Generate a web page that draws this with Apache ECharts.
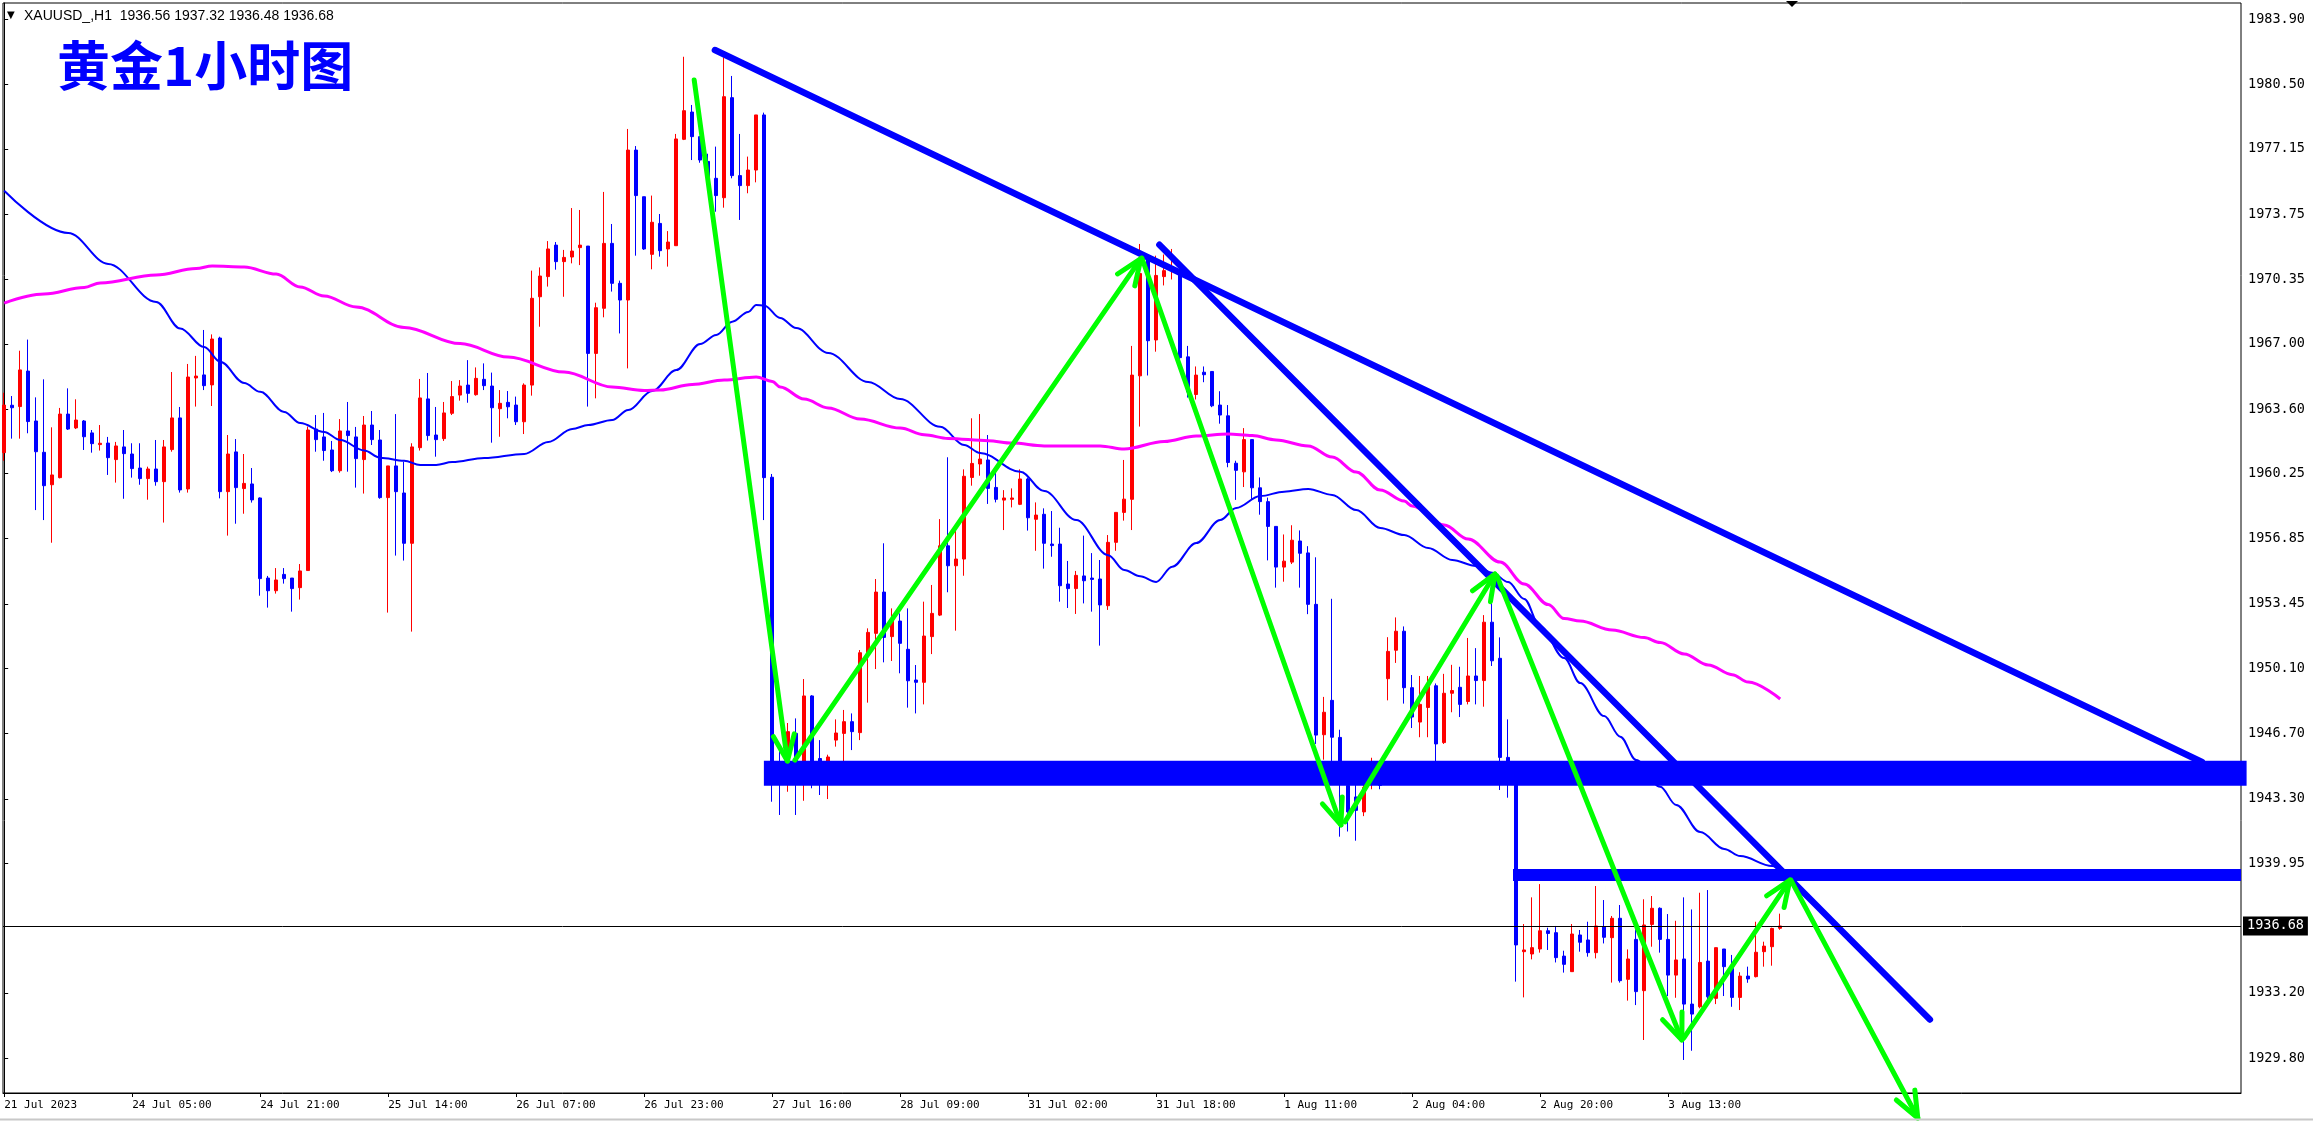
<!DOCTYPE html>
<html>
<head>
<meta charset="utf-8">
<script src="https://cdn.jsdelivr.net/npm/echarts/dist/echarts.min.js"></script>
<style>
html,body{margin:0;padding:0;background:#fff;}
#chart{width:2313px;height:1121px;}
</style>
</head>
<body>
<div id="chart"></div>
<script>
// ---- data (XAUUSD H1) ----
const timeLabels = ['21 Jul 2023','24 Jul 05:00','24 Jul 21:00','25 Jul 14:00','26 Jul 07:00','26 Jul 23:00','27 Jul 16:00','28 Jul 09:00','31 Jul 02:00','31 Jul 18:00','1 Aug 11:00','2 Aug 04:00','2 Aug 20:00','3 Aug 13:00'];
const timeLabelBars = [0,16,32,48,64,80,96,112,128,144,160,176,192,208];
const priceTicks = ['1983.90','1980.50','1977.15','1973.75','1970.35','1967.00','1963.60','1960.25','1956.85','1953.45','1950.10','1946.70','1943.30','1939.95','1933.20','1929.80'];
const lastPrice = 1936.68;

const opens = [1961.33,1963.80,1963.73,1965.58,1962.98,1961.35,1959.66,1960.03,1963.34,1962.62,
1962.98,1962.36,1961.75,1961.83,1960.97,1961.63,1961.26,1960.53,1959.98,1960.48,
1959.82,1961.49,1963.14,1959.44,1965.22,1965.38,1964.86,1967.30,1959.30,1961.37,
1959.46,1959.70,1958.97,1954.80,1954.14,1954.99,1954.80,1954.30,1955.19,1962.56,
1962.15,1961.47,1960.39,1962.46,1962.15,1960.97,1962.77,1961.99,1958.99,1960.64,
1959.23,1956.61,1961.59,1964.13,1962.25,1962.06,1963.38,1964.33,1964.85,1964.35,
1965.15,1964.80,1963.62,1963.95,1963.81,1962.94,1964.85,1969.45,1970.50,1972.14,
1971.28,1971.52,1972.01,1972.09,1966.50,1968.85,1972.23,1970.15,1969.28,1977.09,
1974.66,1971.66,1973.27,1971.94,1972.11,1977.65,1979.07,1977.79,1976.50,1975.62,
1974.61,1979.82,1975.76,1975.24,1976.05,1978.92,1960.05,1945.20,1944.80,1946.71,
1944.70,1948.66,1945.40,1944.90,1946.36,1946.71,1947.32,1946.75,1950.91,1951.92,
1954.07,1951.75,1952.56,1951.09,1949.49,1949.37,1951.75,1952.87,1956.48,1955.44,
1955.79,1960.04,1960.74,1960.95,1959.52,1958.86,1958.90,1958.64,1959.96,1957.86,
1958.12,1956.57,1956.57,1954.49,1954.25,1954.91,1954.80,1954.75,1953.36,1956.66,
1958.22,1958.90,1965.33,1971.38,1967.20,1970.50,1970.87,1970.70,1966.32,1964.36,
1965.52,1965.56,1963.81,1963.25,1960.78,1960.33,1962.01,1959.50,1958.78,1957.49,
1955.37,1955.63,1956.73,1956.11,1953.43,1946.64,1948.43,1946.50,1944.00,1943.40,
1942.62,1944.20,1944.40,1949.56,1951.04,1952.03,1949.09,1947.30,1948.06,1949.19,
1946.23,1948.80,1949.11,1948.37,1949.70,1949.46,1952.50,1950.62,1945.46,1944.60,
1935.34,1935.22,1935.48,1936.43,1936.33,1935.11,1934.30,1936.21,1935.95,1935.29,
1936.64,1936.07,1937.08,1933.90,1935.98,1933.31,1936.76,1937.60,1935.98,1934.12,
1934.96,1932.61,1932.47,1934.85,1932.91,1935.48,1934.47,1932.96,1934.07,1934.04,
1935.34,1935.60,1936.56];

const closes = [1963.81,1963.67,1965.64,1962.95,1961.38,1959.61,1960.17,1963.34,1962.56,1963.03,
1962.16,1961.80,1961.82,1961.07,1961.68,1961.28,1960.50,1959.98,1960.48,1959.82,
1961.63,1963.14,1959.39,1965.27,1965.32,1964.82,1967.25,1959.30,1961.26,1959.51,
1959.73,1958.87,1954.77,1954.14,1954.70,1954.77,1954.25,1955.17,1962.51,1962.01,
1961.44,1960.39,1962.46,1962.22,1961.02,1962.77,1962.01,1958.99,1960.64,1959.30,
1956.61,1961.63,1964.18,1962.22,1962.01,1963.40,1964.25,1964.80,1964.42,1965.20,
1964.82,1963.67,1963.90,1963.72,1962.94,1964.85,1969.37,1970.53,1971.94,1971.28,
1971.50,1971.83,1972.14,1966.50,1968.88,1972.23,1970.15,1969.28,1977.09,1974.72,
1971.94,1973.33,1971.85,1972.30,1977.67,1979.14,1977.79,1976.57,1975.60,1974.72,
1979.87,1975.76,1975.24,1976.05,1978.92,1960.03,1944.60,1944.40,1946.80,1944.90,
1948.66,1944.80,1944.80,1945.48,1946.73,1947.32,1946.80,1950.91,1951.97,1954.07,
1951.71,1952.56,1951.40,1949.45,1949.37,1951.78,1952.96,1956.48,1955.44,1955.79,
1960.10,1960.77,1961.00,1959.47,1958.90,1958.97,1958.97,1959.96,1957.94,1958.08,
1956.61,1956.49,1954.40,1954.25,1954.94,1954.66,1954.73,1953.40,1956.66,1958.22,
1958.91,1965.37,1970.66,1967.16,1970.56,1970.81,1970.97,1966.28,1964.49,1965.37,
1965.39,1963.77,1963.29,1960.82,1960.41,1962.01,1959.50,1958.78,1957.49,1955.37,
1955.68,1956.77,1956.09,1953.43,1946.62,1947.81,1946.51,1944.40,1942.62,1942.70,
1943.90,1944.90,1944.00,1950.98,1952.03,1949.09,1947.56,1948.22,1949.15,1946.16,
1948.80,1948.94,1948.22,1949.70,1949.46,1952.50,1950.49,1945.46,1945.24,1935.69,
1935.43,1935.55,1936.43,1936.29,1935.03,1934.68,1936.26,1935.83,1935.29,1936.68,
1936.09,1937.08,1933.83,1934.96,1933.26,1936.73,1937.60,1935.98,1934.12,1934.91,
1932.61,1932.09,1934.78,1932.99,1935.55,1934.56,1932.96,1934.07,1933.92,1935.31,
1935.63,1936.55,1936.68];

const lows = [1960.91,1962.06,1962.06,1962.34,1958.34,1957.82,1956.64,1959.99,1962.51,1962.56,
1961.47,1961.33,1961.44,1960.17,1959.77,1958.93,1960.03,1959.66,1958.88,1959.61,
1957.69,1961.38,1959.25,1959.25,1963.73,1964.59,1963.76,1958.95,1957.01,1957.63,
1958.15,1958.73,1953.88,1953.26,1953.99,1954.51,1953.05,1953.68,1955.19,1961.38,
1960.91,1960.32,1960.29,1960.34,1959.51,1959.20,1961.73,1958.93,1953.00,1955.97,
1955.71,1952.01,1961.44,1961.96,1961.12,1961.94,1963.29,1964.04,1963.93,1964.30,
1964.59,1961.85,1962.16,1963.12,1962.77,1962.30,1964.30,1967.89,1969.98,1970.86,
1969.45,1971.19,1971.10,1963.73,1964.16,1968.38,1969.72,1967.54,1965.72,1971.59,
1971.89,1970.88,1971.54,1971.02,1972.11,1977.61,1976.57,1976.43,1975.30,1973.88,
1974.09,1975.62,1973.45,1974.84,1975.41,1957.82,1943.15,1942.46,1943.67,1942.46,
1943.20,1943.85,1943.50,1943.29,1946.02,1945.27,1945.84,1946.36,1948.31,1950.06,
1950.41,1950.48,1949.84,1948.05,1947.75,1948.22,1950.84,1952.82,1954.06,1952.06,
1954.92,1959.61,1960.13,1958.66,1958.74,1957.30,1958.48,1958.60,1957.27,1956.22,
1955.29,1955.91,1953.57,1953.24,1952.93,1953.48,1953.05,1951.28,1953.14,1956.22,
1957.79,1957.30,1962.69,1965.35,1966.59,1970.04,1970.35,1966.10,1964.20,1964.10,
1965.00,1963.70,1962.84,1960.57,1958.87,1959.54,1958.87,1958.10,1955.72,1954.30,
1954.61,1955.53,1954.30,1952.92,1946.16,1945.34,1945.20,1941.33,1941.60,1941.12,
1942.40,1943.80,1943.80,1948.43,1950.38,1948.26,1946.99,1946.51,1946.51,1945.24,
1946.16,1947.81,1947.56,1948.22,1948.22,1948.10,1950.22,1943.76,1943.36,1933.78,
1932.96,1934.94,1935.29,1935.43,1934.78,1934.25,1934.30,1935.34,1935.08,1934.99,
1935.77,1933.73,1933.73,1932.79,1932.56,1930.74,1935.60,1935.29,1933.03,1932.94,
1929.70,1930.18,1932.39,1932.65,1932.61,1933.03,1932.47,1932.30,1933.72,1934.00,
1934.56,1934.61,1936.48];

const highs = [1964.45,1964.28,1966.64,1967.22,1964.21,1965.15,1962.65,1963.66,1964.68,1964.11,
1963.03,1962.51,1962.77,1962.15,1961.89,1962.51,1961.82,1961.82,1960.60,1961.99,
1961.99,1965.53,1963.71,1965.95,1966.37,1967.72,1967.49,1967.37,1962.25,1962.04,
1961.26,1960.53,1959.00,1954.91,1955.32,1955.32,1954.80,1955.53,1962.69,1963.29,
1963.40,1961.94,1963.08,1963.97,1962.67,1963.24,1963.50,1962.51,1960.64,1963.34,
1960.86,1961.82,1965.17,1965.48,1963.71,1963.97,1965.06,1965.11,1966.15,1965.77,
1965.98,1965.50,1964.59,1964.54,1964.25,1964.94,1970.81,1970.98,1972.35,1972.30,
1971.89,1974.07,1973.97,1972.09,1969.14,1974.91,1973.24,1970.29,1978.19,1977.30,
1974.66,1974.72,1973.76,1972.87,1977.93,1981.95,1979.44,1977.82,1976.90,1977.27,
1981.92,1980.95,1977.93,1976.75,1978.92,1979.04,1960.22,1946.00,1947.25,1947.49,
1949.54,1948.70,1946.36,1945.60,1947.44,1947.93,1947.75,1951.05,1952.18,1954.75,
1956.61,1953.22,1952.96,1953.22,1950.27,1953.57,1954.44,1957.87,1961.09,1957.39,
1960.46,1963.12,1963.34,1962.25,1960.51,1959.38,1959.47,1960.46,1960.03,1958.74,
1958.43,1958.29,1957.42,1955.69,1955.17,1957.01,1956.10,1955.74,1957.04,1958.22,
1960.95,1966.89,1972.20,1971.59,1971.59,1971.65,1971.94,1970.87,1966.89,1965.82,
1965.82,1965.56,1964.53,1963.81,1960.91,1962.61,1962.01,1960.04,1958.99,1957.49,
1957.07,1957.55,1957.28,1956.46,1955.88,1948.61,1953.72,1946.90,1944.40,1944.30,
1944.10,1945.44,1944.80,1951.72,1952.75,1952.28,1949.75,1949.70,1949.70,1949.31,
1949.81,1950.28,1950.18,1951.68,1951.15,1952.87,1953.48,1951.71,1947.44,1945.00,
1936.78,1938.17,1938.86,1936.59,1936.68,1935.39,1936.78,1936.47,1936.90,1938.76,
1938.03,1937.20,1937.77,1935.46,1936.50,1938.07,1938.24,1937.65,1937.30,1936.95,
1938.17,1937.54,1938.41,1938.55,1935.55,1935.48,1935.17,1934.27,1934.56,1936.90,
1935.86,1936.59,1937.32];

// moving averages (read at sampled bars)
const maBlueBars = [0,8,13,19,22,25,27,30,32,35,37,40,42,45,47,50,52,54,56,60,65,68,71,73,76,78,81,84,87,89,91,93,94,95,97,99,103,108,112,117,120,122,127,130,134,138,140,142,144,146,149,152,154,157,160,163,166,169,172,175,178,181,184,186,188,190,192,195,197,200,202,204,207,209,212,215,217,221,222];
const maBlueVals = [1974.97,1972.77,1971.16,1969.18,1967.80,1966.83,1966.07,1964.96,1964.50,1963.45,1962.87,1962.41,1961.99,1961.44,1961.07,1960.91,1960.69,1960.69,1960.84,1961.05,1961.26,1961.88,1962.56,1962.77,1963.03,1963.55,1964.54,1965.63,1966.99,1967.46,1968.15,1968.66,1969.02,1969.00,1968.34,1967.82,1966.52,1965.01,1964.12,1962.68,1961.73,1961.31,1960.34,1959.33,1957.82,1955.99,1955.22,1954.90,1954.60,1955.39,1956.62,1957.82,1958.45,1959.07,1959.30,1959.44,1959.13,1958.34,1957.41,1957.04,1956.36,1955.74,1955.43,1955.08,1954.59,1953.71,1952.26,1950.63,1949.33,1947.61,1946.54,1945.32,1943.93,1942.98,1941.57,1940.69,1940.32,1939.80,1939.70];
const maPinkBars = [0,5,10,12,19,24,26,30,34,37,40,44,50,57,63,70,76,80,82,86,90,94,96,97,100,103,107,112,115,118,123,126,130,137,140,145,149,153,156,159,163,166,169,172,175,176,180,183,187,190,193,195,197,201,205,207,210,213,216,218,222];
const maPinkVals = [1969.12,1969.59,1969.93,1970.17,1970.58,1970.92,1971.05,1971.00,1970.63,1969.96,1969.49,1968.92,1967.85,1967.01,1966.31,1965.53,1964.75,1964.57,1964.59,1964.88,1965.11,1965.27,1965.04,1964.75,1964.12,1963.66,1963.08,1962.61,1962.26,1962.07,1961.95,1961.83,1961.68,1961.68,1961.52,1961.91,1962.20,1962.30,1962.22,1961.99,1961.68,1961.10,1960.32,1959.38,1958.81,1958.55,1957.56,1956.83,1955.63,1954.49,1953.42,1952.69,1952.56,1952.09,1951.70,1951.44,1950.84,1950.27,1949.77,1949.38,1948.50];

// drawn objects, in (bar, price)
const trendLineUpper = [[88.84,1982.30],[274.71,1945.22]];
const trendLineSteep = [[144.40,1972.16],[240.71,1931.81]];
const supportWide = [[94.96,1944.63],[280.3,1944.63]];
const supportThin = [[188.6,1939.33],[279.6,1939.33]];
const arrows = [
  [86.25,1980.74,97.9,1945.27],
  [98.84,1945.32,142.09,1971.44],
  [142.21,1971.47,167.09,1941.94],
  [167.59,1942.10,186.34,1955.01],
  [186.59,1954.91,209.71,1930.74],
  [209.96,1930.85,223.21,1939.07],
  [223.34,1939.07,239.2,1926.68]
];

// ---- build chart ----
const candleData = opens.map((o, i) => [i, o, closes[i], lows[i], highs[i]]);
const maBlue = maBlueBars.map((b, i) => [b, maBlueVals[i]]);
const maPink = maPinkBars.map((b, i) => [b, maPinkVals[i]]);
const tickValues = priceTicks.map(Number);

const chart = echarts.init(document.getElementById('chart'), null, {renderer: 'canvas'});
const monoFont = 'DejaVu Sans Mono';

const option = {
  animation: false,
  backgroundColor: '#ffffff',
  grid: {
    left: 3, top: 3, right: 72, bottom: 28,
    show: true, borderColor: '#000', borderWidth: 1, backgroundColor: 'transparent',
    outerBoundsMode: 'none'
  },
  xAxis: {
    type: 'value', min: -0.15, max: 279.6,
    axisLine: {show: true, onZero: false, lineStyle: {color: '#000', width: 1}},
    axisTick: {show: true, customValues: timeLabelBars, length: 4, lineStyle: {color: '#000'}},
    axisLabel: {
      show: true, customValues: timeLabelBars, align: 'left', margin: 7,
      color: '#000', fontFamily: monoFont, fontSize: 11,
      formatter: (v) => timeLabels[timeLabelBars.indexOf(Math.round(v))] || ''
    },
    splitLine: {show: false}
  },
  yAxis: {
    type: 'value', position: 'right', min: 1927.98, max: 1984.75, scale: true,
    axisLine: {show: true, lineStyle: {color: '#000', width: 1}},
    axisTick: {show: true, customValues: tickValues, length: 4, lineStyle: {color: '#000'}},
    axisLabel: {
      show: true, customValues: tickValues, margin: 7,
      color: '#000', fontFamily: monoFont, fontSize: 13.5,
      formatter: (v) => Number(v).toFixed(2)
    },
    splitLine: {show: false}
  },
  series: [
    {
      type: 'candlestick', name: 'XAUUSD',
      data: candleData,
      encode: {x: 0, y: [1, 2, 3, 4]},
      barWidth: 3, z: 2,
      itemStyle: {color: '#ff0000', color0: '#0000ff', borderColor: '#ff0000', borderColor0: '#0000ff', borderWidth: 1},
      markLine: {
        silent: true, symbol: ['none', 'none'], animation: false,
        data: [{yAxis: lastPrice}],
        lineStyle: {color: '#000', width: 1, type: 'solid'},
        label: {
          show: true, position: 'end', distance: 2,
          formatter: lastPrice.toFixed(2),
          color: '#fff', backgroundColor: '#000', padding: [3, 4, 2, 4],
          fontFamily: monoFont, fontSize: 13.5
        }
      }
    },
    {
      type: 'line', name: 'MA fast', data: maBlue, z: 3,
      showSymbol: false, symbol: 'none', smooth: 0.35, smoothMonotone: 'x',
      lineStyle: {color: '#0000ff', width: 2}
    },
    {
      type: 'line', name: 'MA slow', data: maPink, z: 3,
      showSymbol: false, symbol: 'none', smooth: 0.35, smoothMonotone: 'x',
      lineStyle: {color: '#ff00ff', width: 3}
    },
    {
      type: 'line', data: supportWide, z: 4, symbol: 'none',
      lineStyle: {color: '#0000ff', width: 25, cap: 'butt'}
    },
    {
      type: 'line', data: supportThin, z: 4, symbol: 'none',
      lineStyle: {color: '#0000ff', width: 12, cap: 'butt'}
    },
    {
      type: 'line', data: trendLineUpper, z: 4, symbol: 'none',
      lineStyle: {color: '#0000ff', width: 6.5, cap: 'round'}
    },
    {
      type: 'line', data: trendLineSteep, z: 4, symbol: 'none',
      lineStyle: {color: '#0000ff', width: 6.5, cap: 'round'}
    },
    {
      type: 'custom', data: arrows, z: 6, clip: false,
      encode: {x: [0, 2], y: [1, 3]},
      renderItem: function (params, api) {
        const p1 = api.coord([api.value(0), api.value(1)]);
        const p2 = api.coord([api.value(2), api.value(3)]);
        const dx = p1[0] - p2[0], dy = p1[1] - p2[1];
        const len = Math.hypot(dx, dy) || 1;
        const ux = dx / len, uy = dy / len;
        const ang = 22 * Math.PI / 180, wl = 28;
        const wing = (a) => [p2[0] + wl * (ux * Math.cos(a) - uy * Math.sin(a)),
                             p2[1] + wl * (ux * Math.sin(a) + uy * Math.cos(a))];
        const st = {stroke: '#00ff00', lineWidth: 5, lineCap: 'round', lineJoin: 'round', fill: null};
        return {
          type: 'group',
          children: [
            {type: 'polyline', shape: {points: [p1, p2]}, style: st},
            {type: 'polyline', shape: {points: [wing(ang), p2, wing(-ang)]}, style: st}
          ]
        };
      }
    }
  ],
  graphic: [
    {type: 'text', x: 7, y: 15, z: 10, style: {text: '▼', fill: '#000', font: '10px "DejaVu Sans"', verticalAlign: 'middle'}},
    {type: 'text', x: 24, y: 16, z: 10, style: {text: 'XAUUSD_,H1  1936.56 1937.32 1936.48 1936.68', fill: '#000', font: '14px "Liberation Sans"', verticalAlign: 'middle'}},
    {type: 'text', x: 57, y: 66, z: 10, style: {
      text: '黄金1小时图', fill: '#0000ff', font: 'bold 53px "Noto Sans CJK SC"', verticalAlign: 'middle',
      shadowColor: 'rgba(20,20,70,0.9)', shadowOffsetX: 2, shadowOffsetY: 2, shadowBlur: 0
    }},
    {type: 'polygon', z: 10, shape: {points: [[1786, 1], [1798, 1], [1792, 7]]}, style: {fill: '#000'}},
    {type: 'line', z: 10, shape: {x1: 0, y1: 1119.5, x2: 2313, y2: 1119.5}, style: {stroke: '#c8c8c8', lineWidth: 2}}
  ]
};
chart.setOption(option);
</script>
</body>
</html>
